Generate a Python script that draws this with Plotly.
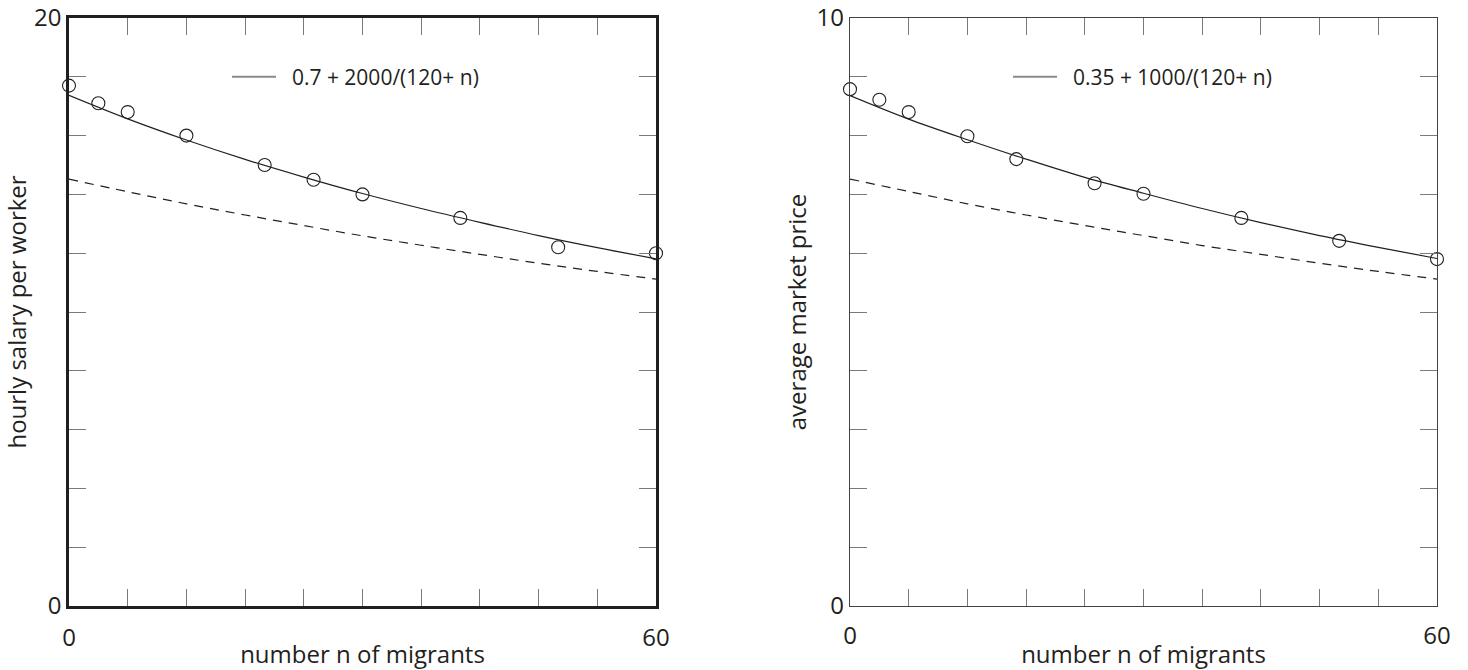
import plotly.graph_objects as go

# ---- data ----
n_points_left = [0, 3, 6, 12, 20, 25, 30, 40, 50, 60]
salary_points = [17.7, 17.1, 16.8, 16.0, 15.0, 14.5, 14.0, 13.2, 12.2, 12.0]

n_points_right = [0, 3, 6, 12, 17, 25, 30, 40, 50, 60]
price_points = [8.79, 8.61, 8.40, 7.99, 7.60, 7.19, 7.01, 6.60, 6.21, 5.90]

n_curve = [0, 6, 12, 18, 24, 30, 36, 42, 48, 54, 60]
salary_fit = [17.37, 16.57, 15.85, 15.19, 14.59, 14.03, 13.52, 13.05, 12.60, 12.19, 11.81]
salary_dashed = [14.52, 14.09, 13.68, 13.30, 12.94, 12.59, 12.27, 11.96, 11.66, 11.38, 11.12]
price_fit = [8.68, 8.28, 7.93, 7.60, 7.29, 7.02, 6.76, 6.52, 6.30, 6.10, 5.91]
price_dashed = [7.26, 7.05, 6.84, 6.65, 6.47, 6.30, 6.13, 5.98, 5.83, 5.69, 5.56]

legend_left = "0.7 + 2000/(120+ n)"
legend_right = "0.35 + 1000/(120+ n)"

x_ticks = [0, 6, 12, 18, 24, 30, 36, 42, 48, 54, 60]
x_ticktext = ["0", "", "", "", "", "", "", "", "", "", "60"]
y_ticks_left = [0, 2, 4, 6, 8, 10, 12, 14, 16, 18, 20]
y_ticktext_left = ["0"] + [""] * 9 + ["20"]
y_ticks_right = [0, 1, 2, 3, 4, 5, 6, 7, 8, 9, 10]
y_ticktext_right = ["0"] + [""] * 9 + ["10"]

FONT = "Open Sans"
INK = "#231f20"
W, H = 1468, 670

fig = go.Figure()

def add_panel(xa, ya, npts, pts, fit, dashed, legname, legid):
    fig.add_trace(go.Scatter(x=n_curve, y=fit, mode="lines", line=dict(color=INK, width=1.2, shape="spline"),
                             xaxis=xa, yaxis=ya, showlegend=False))
    fig.add_trace(go.Scatter(x=n_curve, y=dashed, mode="lines",
                             line=dict(color=INK, width=1.2, dash="9px,7px", shape="spline"),
                             xaxis=xa, yaxis=ya, showlegend=False))
    fig.add_trace(go.Scatter(x=npts, y=pts, mode="markers",
                             marker=dict(symbol="circle-open", size=13, color=INK, line=dict(width=1.1)),
                             xaxis=xa, yaxis=ya, showlegend=False, cliponaxis=False))
    fig.add_trace(go.Scatter(x=[None], y=[None], mode="lines", line=dict(color="#8a8a8a", width=2),
                             name="\u00a0\u00a0" + legname, xaxis=xa, yaxis=ya, showlegend=True, legend=legid))

add_panel("x", "y", n_points_left, salary_points, salary_fit, salary_dashed, legend_left, "legend")
add_panel("x2", "y2", n_points_right, price_points, price_fit, price_dashed, legend_right, "legend2")

ydom = [1 - 606 / H, 1 - 18 / H]

def xaxis_cfg(dom, lw, lc):
    return dict(domain=dom, range=[0, 60], tickvals=x_ticks, ticktext=x_ticktext, ticks="inside", ticklen=17,
                tickcolor="#7a7a7a", tickwidth=1.2, showline=True, linecolor=lc, linewidth=lw, mirror="ticks",
                showgrid=False, zeroline=False, tickfont=dict(family=FONT, size=24, color=INK),
                ticklabelstandoff=8, automargin=False, ticklabeloverflow="allow",
                title=dict(text="number n of migrants", font=dict(family=FONT, size=24, color=INK), standoff=0))

def yaxis_cfg(anchor, rng, tv, tt, title, lw, lc):
    return dict(domain=ydom, anchor=anchor, range=rng, tickvals=tv, ticktext=tt, ticks="inside", ticklen=17,
                tickcolor="#7a7a7a", tickwidth=1.2, showline=True, linecolor=lc, linewidth=lw, mirror="ticks",
                showgrid=False, zeroline=False, tickfont=dict(family=FONT, size=24, color=INK),
                automargin=False, ticklabeloverflow="allow",
                title=dict(text=title, font=dict(family=FONT, size=24, color=INK), standoff=3))

fig.update_layout(
    width=W, height=H, margin=dict(l=0, r=0, t=0, b=0),
    paper_bgcolor="white", plot_bgcolor="white",
    xaxis=dict(**xaxis_cfg([69 / W, 656 / W], 2.6, INK), anchor="y"),
    yaxis=yaxis_cfg("x", [0, 20], y_ticks_left, y_ticktext_left, "hourly salary per worker", 2.6, INK),
    xaxis2=dict(**xaxis_cfg([850 / W, 1437 / W], 1.3, "#444444"), anchor="y2"),
    yaxis2=yaxis_cfg("x2", [0, 10], y_ticks_right, y_ticktext_right, "average market price", 1.3, "#444444"),
    legend=dict(x=227 / W, y=1 - 77 / H, xanchor="left", yanchor="middle", bgcolor="rgba(0,0,0,0)",
                font=dict(family=FONT, size=21, color=INK), itemwidth=44, borderwidth=0),
    legend2=dict(x=1008 / W, y=1 - 77 / H, xanchor="left", yanchor="middle", bgcolor="rgba(0,0,0,0)",
                 font=dict(family=FONT, size=21, color=INK), itemwidth=44, borderwidth=0),
)

fig.write_html("out.html", config={"displayModeBar": False},
               post_script="document.body.style.margin='0';")
